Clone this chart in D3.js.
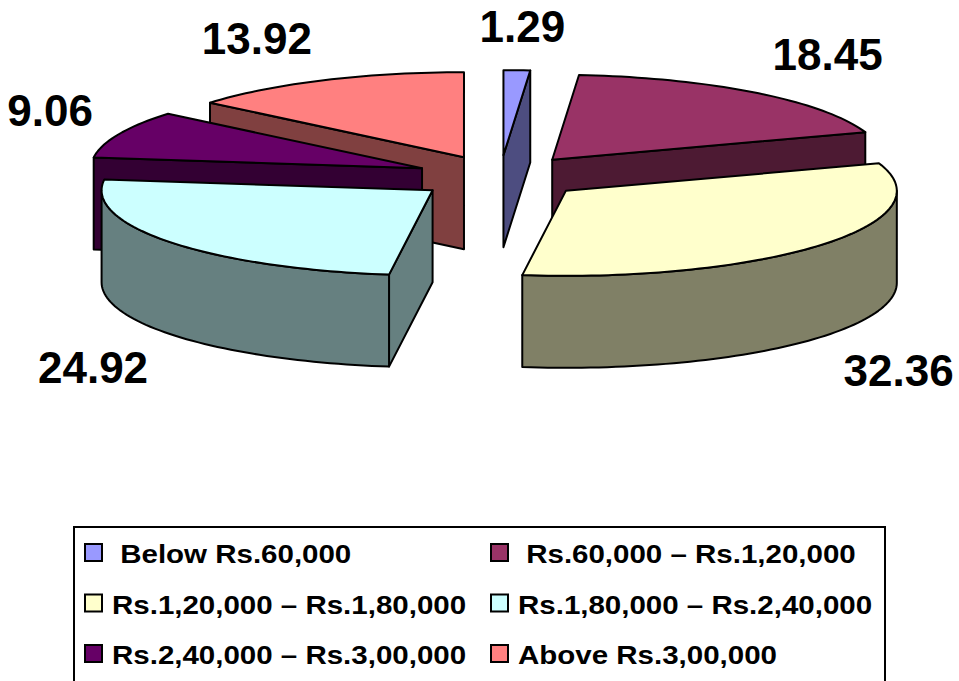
<!DOCTYPE html>
<html>
<head>
<meta charset="utf-8">
<script src="https://cdn.jsdelivr.net/npm/d3@7"></script>
<style>
  body { margin: 0; background: #fff; }
  svg { display: block; font-family: Arial, "Liberation Sans", sans-serif; }
  .lbl { font-weight: bold; font-size: 44px; fill: #000; }
  .leg { font-weight: bold; font-size: 25px; fill: #000; white-space: pre; }
  .face { stroke: #000; stroke-width: 2; stroke-linejoin: round; }
</style>
</head>
<body>
<svg id="chart" width="959" height="681"></svg>
<script>
// ── Data ─────────────────────────────────────────────────────────────────
const categories = [
  ' Below Rs.60,000',
  ' Rs.60,000 – Rs.1,20,000',
  'Rs.1,20,000 – Rs.1,80,000',
  'Rs.1,80,000 – Rs.2,40,000',
  'Rs.2,40,000 – Rs.3,00,000',
  'Above Rs.3,00,000'
];
const values     = [1.29, 18.45, 32.36, 24.92, 9.06, 13.92];
const topColors  = ['#9999FF', '#993366', '#FFFFCC', '#CCFFFF', '#660066', '#FF8080'];

// ── Geometry of the 3-D pie ─────────────────────────────────────────────
const W = 959, H = 681;
const cx = 500, cy = 177;      // centre of top face (before explode)
const rx = 331, ry = 85;       // ellipse radii
const depth = 92;              // thickness
const explode = 0.257;         // explode distance, fraction of radius

const svg = d3.select('#chart');
svg.append('rect').attr('width', W).attr('height', H).attr('fill', '#fff');

const x = d3.scaleLinear().domain([-1, 1]).range([cx - rx, cx + rx]);
const y = d3.scaleLinear().domain([-1, 1]).range([cy + ry, cy - ry]);

const half = c => { const k = d3.rgb(c); return d3.rgb(k.r * 0.5, k.g * 0.5, k.b * 0.5).formatHex(); };

const pie = d3.pie().sort(null).value(d => d.v);
const arcs = pie(values.map((v, i) => ({ v, i })));

function proj(a, r, o, z) {
  return [x(o.x + r * Math.sin(a)), y(o.y + r * Math.cos(a)) + z];
}
function rim(a0, a1, o, z) {
  const n = Math.max(2, Math.ceil((a1 - a0) / (Math.PI * 2) * 240));
  return d3.range(n + 1).map(k => proj(a0 + (a1 - a0) * k / n, 1, o, z));
}
const line = d3.line().curve(d3.curveLinearClosed);

// back slices first
const order = arcs.slice().sort((p, q) =>
  Math.cos((q.startAngle + q.endAngle) / 2) - Math.cos((p.startAngle + p.endAngle) / 2));

const pieG = svg.append('g');

order.forEach(d => {
  const a0 = d.startAngle, a1 = d.endAngle, mid = (a0 + a1) / 2;
  const o = { x: explode * Math.sin(mid), y: explode * Math.cos(mid) };
  const top = topColors[d.data.i], side = half(top);
  const g = pieG.append('g');

  // radial faces
  const radial = a => [proj(a, 0, o, 0), proj(a, 1, o, 0), proj(a, 1, o, depth), proj(a, 0, o, depth)];
  if (Math.sin(a0) < -1e-6) g.append('path').attr('class', 'face').attr('fill', side).attr('d', line(radial(a0)));
  if (Math.sin(a1) > 1e-6)  g.append('path').attr('class', 'face').attr('fill', side).attr('d', line(radial(a1)));

  // outer curved side (front half only)
  const s = Math.max(a0, Math.PI / 2), e = Math.min(a1, Math.PI * 1.5);
  if (e > s) {
    const pts = rim(s, e, o, 0).concat(rim(s, e, o, depth).reverse());
    g.append('path').attr('class', 'face').attr('fill', side).attr('d', line(pts));
  }

  // top face
  g.append('path').attr('class', 'face').attr('fill', top)
    .attr('d', line([proj(0, 0, o, 0)].concat(rim(a0, a1, o, 0))));
});

// ── Data labels ─────────────────────────────────────────────────────────
const clamp = v => Math.max(-1, Math.min(1, v));
arcs.forEach(d => {
  const mid = (d.startAngle + d.endAngle) / 2;
  const sn = Math.sin(mid), cs = Math.cos(mid);
  const o = { x: explode * sn, y: explode * cs };
  const p = proj(mid, 1, o, cs < 0 ? depth : 0);
  const txt = d.data.v.toFixed(2);
  const t = svg.append('text').attr('class', 'lbl').attr('text-anchor', 'middle').text(txt);
  const bw = t.node().getComputedTextLength();
  const lx = p[0] + 28 * sn + (bw / 2) * clamp(sn / 0.4);
  const ly = p[1] - 28 * cs - 16 * clamp(cs / 0.5);
  t.attr('x', lx).attr('y', ly + 15.5);
});

// ── Legend ──────────────────────────────────────────────────────────────
const legX = 74, legY = 527, legW = 811;
svg.append('rect')
  .attr('x', legX).attr('y', legY).attr('width', legW).attr('height', 200)
  .attr('fill', '#fff').attr('stroke', '#000').attr('stroke-width', 2);

const colX = d3.scaleOrdinal().domain([0, 1]).range([84, 490]);
const rowY = d3.scaleLinear().domain([0, 1]).range([563, 613.5]);

categories.forEach((c, i) => {
  const cxl = colX(i % 2), base = rowY(Math.floor(i / 2));
  svg.append('rect')
    .attr('x', cxl + 1).attr('y', base - 19).attr('width', 17).attr('height', 17)
    .attr('fill', topColors[i]).attr('stroke', '#000').attr('stroke-width', 2);
  svg.append('text')
    .attr('class', 'leg')
    .attr('transform', `translate(${cxl + 28},${base}) scale(1.18,1)`)
    .text(c);
});
</script>
</body>
</html>
